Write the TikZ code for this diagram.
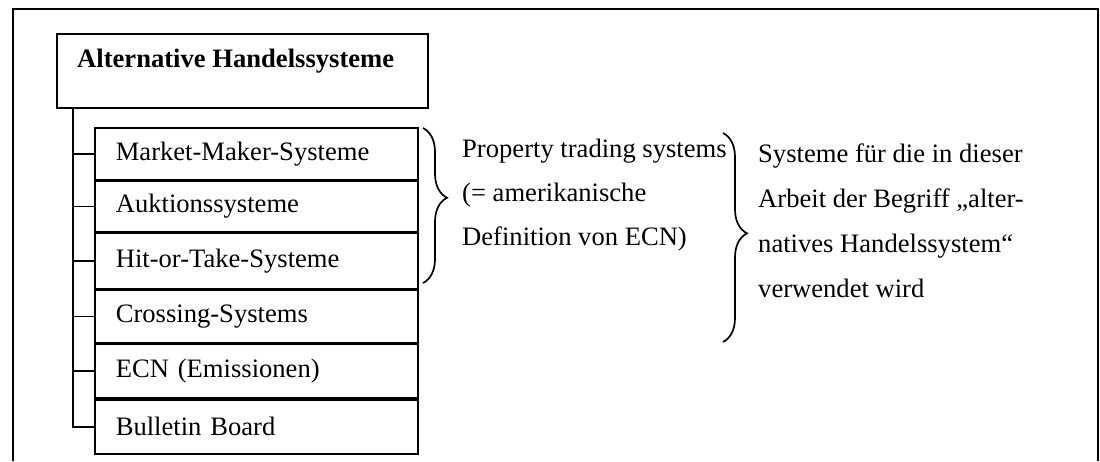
\documentclass[tikz,border=0pt]{standalone}
\usepackage{fontspec}
\setmainfont{Liberation Serif}
\usetikzlibrary{decorations.pathreplacing}
\tikzset{
  boxline/.style={line width=1.6pt},
  itembox/.style={draw, boxline, anchor=north west, minimum width=323pt,
    inner xsep=21pt, inner ysep=0pt, text width=281pt, align=left,
    font=\fontsize{26.6}{30}\selectfont},
  tick/.style={boxline},
  mybrace/.style={decorate, decoration={brace, amplitude=24pt}, line width=1.7pt},
  note/.style={anchor=base west, align=left, inner sep=0pt},
}
\begin{document}
\begin{tikzpicture}[x=1pt,y=-1pt]
\useasboundingbox (0,0) rectangle (1100,461);
% outer frame (open at the bottom)
\coordinate (fbl) at (13,461);
\coordinate (ftl) at (13,9);
\coordinate (ftr) at (1098,9);
\coordinate (fbr) at (1098,461);
\draw[boxline] (fbl) -- (ftl) -- (ftr) -- (fbr);
% title
\node[draw, boxline, anchor=north west, minimum width=371pt, minimum height=74pt, inner sep=0pt] (title) at (56,33) {};
\node[anchor=base west, inner sep=0pt, font=\fontsize{26.6}{30}\selectfont\bfseries] (titletext) at (77,67) {Alternative Handelssysteme};
% items
\node[itembox, minimum height=52pt] (b1) at (94,127) {Market-Maker-Systeme};
\node[itembox, minimum height=50pt] (b2) at (b1.south west) {Auktionssysteme};
\node[itembox, minimum height=56pt] (b3) at (b2.south west) {Hit-or-Take-Systeme};
\node[itembox, minimum height=52pt] (b4) at (b3.south west) {Crossing-Systems};
\node[itembox, minimum height=54pt] (b5) at (b4.south west) {ECN (Emissionen)};
\node[itembox, minimum height=54pt] (b6) at (b5.south west) {Bulletin Board};
% spine and ticks
\coordinate (sp) at ([xshift=17pt]title.south west);
\draw[tick] (sp) |- (b6.west);
\foreach \b in {b1,b2,b3,b4,b5}{
  \draw[tick] (\b.west) -- (\b.west -| sp);
}
% braces
\coordinate (br1t) at (423,128);
\coordinate (br1b) at (423,283);
\draw[mybrace, decoration={aspect=0.45}] (br1t) -- (br1b);
\coordinate (br2t) at (723,133);
\coordinate (br2b) at (723,342);
\draw[mybrace, decoration={aspect=0.48}] (br2t) -- (br2b);
% notes (base anchor = baseline of the last line)
\node[note, font=\fontsize{26.6}{44}\selectfont] (n1) at (462,245)
  {Property trading systems\\(= amerikanische\\Definition von ECN)};
\node[note, font=\fontsize{26.6}{45}\selectfont] (n2) at (758,297)
  {Systeme für die in dieser\\Arbeit der Begriff „alter-\\natives Handelssystem“\\verwendet wird};
\end{tikzpicture}
\end{document}
